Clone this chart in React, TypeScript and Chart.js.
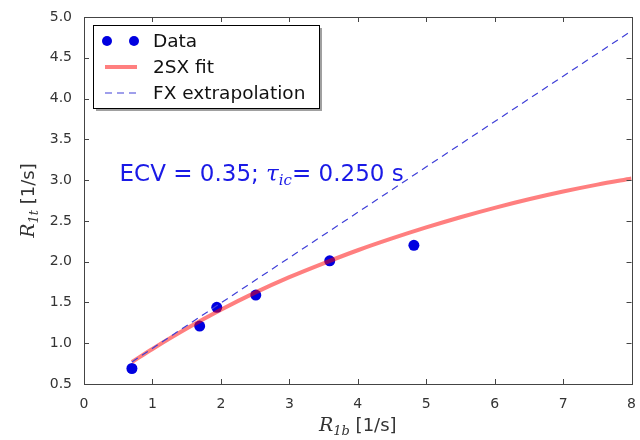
import React, { useEffect, useRef } from "react";
import { Chart, registerables } from "chart.js";

Chart.register(...registerables);

// ---- data ----
const dataX = [0.7, 1.69, 1.94, 2.51, 3.59, 4.82];
const dataY = [0.69, 1.21, 1.44, 1.59, 2.01, 2.2];

const fitX = [0.7, 1.0, 1.5, 2.0, 2.5, 3.0, 3.5, 4.0, 4.5, 5.0, 5.5, 6.0, 6.5, 7.0, 7.5, 8.0];
const fitY = [0.77, 0.93, 1.18, 1.41, 1.62, 1.81, 1.98, 2.14, 2.285, 2.42, 2.545, 2.66, 2.765, 2.86, 2.945, 3.02];

const fxX = [0.7, 8.0];
const fxY = [0.77, 4.83];

const xTicks = [0, 1, 2, 3, 4, 5, 6, 7, 8];
const yTicks = [0.5, 1.0, 1.5, 2.0, 2.5, 3.0, 3.5, 4.0, 4.5, 5.0];

const seriesLabels = ["Data", "2SX fit", "FX extrapolation"];
const ecvValue = "0.35";
const tauValue = "0.250";
const annotX = 0.52;
const annotY = 2.99;

const SANS = "'DejaVu Sans', sans-serif";
const SERIF = "'DejaVu Serif', serif";
const BLUE = "#0000e0";
const RED = "rgba(255,0,0,0.5)";
const DASH = "#4040d8";

type Seg = { t: string; f: string; dy: number };

function drawRich(ctx: CanvasRenderingContext2D, segs: Seg[], x: number, y: number, align: "left" | "center") {
  let total = 0;
  for (const s of segs) {
    ctx.font = s.f;
    total += ctx.measureText(s.t).width;
  }
  let cx = align === "center" ? x - total / 2 : x;
  ctx.textAlign = "left";
  ctx.textBaseline = "alphabetic";
  for (const s of segs) {
    ctx.font = s.f;
    ctx.fillText(s.t, cx, y + s.dy);
    cx += ctx.measureText(s.t).width;
  }
}

const decorPlugin = {
  id: "decor",
  afterDraw(chart: any) {
    const ctx: CanvasRenderingContext2D = chart.ctx;
    const { left, right, top, bottom } = chart.chartArea;
    const xs = chart.scales.x;
    const ys = chart.scales.y;
    ctx.save();

    // frame
    ctx.strokeStyle = "#444";
    ctx.lineWidth = 1;
    ctx.strokeRect(Math.round(left) + 0.5, Math.round(top) + 0.5, Math.round(right - left), Math.round(bottom - top));

    // inward ticks on all sides
    const TL = 5;
    ctx.beginPath();
    for (const v of xTicks) {
      const px = Math.round(xs.getPixelForValue(v)) + 0.5;
      ctx.moveTo(px, bottom);
      ctx.lineTo(px, bottom - TL);
      ctx.moveTo(px, top);
      ctx.lineTo(px, top + TL);
    }
    for (const v of yTicks) {
      const py = Math.round(ys.getPixelForValue(v)) + 0.5;
      ctx.moveTo(left, py);
      ctx.lineTo(left + TL, py);
      ctx.moveTo(right, py);
      ctx.lineTo(right - TL, py);
    }
    ctx.stroke();

    // annotation
    ctx.fillStyle = "#1a1ae6";
    drawRich(
      ctx,
      [
        { t: `ECV = ${ecvValue}; `, f: `23px ${SANS}`, dy: 0 },
        { t: "τ", f: `italic 23px ${SERIF}`, dy: 0 },
        { t: "ic", f: `italic 15px ${SERIF}`, dy: 4 },
        { t: `= ${tauValue} s`, f: `23px ${SANS}`, dy: 0 },
      ],
      xs.getPixelForValue(annotX),
      ys.getPixelForValue(annotY),
      "left"
    );

    // axis titles
    ctx.fillStyle = "#333";
    drawRich(
      ctx,
      [
        { t: "R", f: `italic 19px ${SERIF}`, dy: 0 },
        { t: "1b", f: `italic 13px ${SERIF}`, dy: 4 },
        { t: " [1/s]", f: `18px ${SANS}`, dy: 0 },
      ],
      (left + right) / 2,
      431,
      "center"
    );
    ctx.save();
    ctx.translate(34, (top + bottom) / 2);
    ctx.rotate(-Math.PI / 2);
    drawRich(
      ctx,
      [
        { t: "R", f: `italic 19px ${SERIF}`, dy: 0 },
        { t: "1t", f: `italic 13px ${SERIF}`, dy: 4 },
        { t: " [1/s]", f: `18px ${SANS}`, dy: 0 },
      ],
      0,
      0,
      "center"
    );
    ctx.restore();

    // legend
    const bx = left + 9;
    const by = top + 8;
    const bw = 226;
    const bh = 83;
    ctx.fillStyle = "rgba(120,120,120,0.7)";
    ctx.fillRect(bx + 3, by + 3, bw, bh);
    ctx.fillStyle = "#fff";
    ctx.fillRect(bx, by, bw, bh);
    ctx.strokeStyle = "#000";
    ctx.lineWidth = 1;
    ctx.strokeRect(Math.round(bx) + 0.5, Math.round(by) + 0.5, bw, bh);

    const rows = [by + 16, by + 42, by + 68];
    const hx0 = bx + 12;
    const hx1 = bx + 44;
    ctx.fillStyle = BLUE;
    for (const hx of [bx + 14, bx + 41]) {
      ctx.beginPath();
      ctx.arc(hx, rows[0], 5, 0, Math.PI * 2);
      ctx.fill();
    }
    ctx.strokeStyle = RED;
    ctx.lineWidth = 4;
    ctx.beginPath();
    ctx.moveTo(hx0, rows[1]);
    ctx.lineTo(hx1, rows[1]);
    ctx.stroke();
    ctx.strokeStyle = DASH;
    ctx.lineWidth = 1.2;
    ctx.setLineDash([7, 5]);
    ctx.beginPath();
    ctx.moveTo(hx0, rows[2]);
    ctx.lineTo(hx1, rows[2]);
    ctx.stroke();
    ctx.setLineDash([]);

    ctx.fillStyle = "#111";
    ctx.font = `18.5px ${SANS}`;
    ctx.textAlign = "left";
    ctx.textBaseline = "middle";
    seriesLabels.forEach((lab, i) => ctx.fillText(lab, bx + 60, rows[i] + 1));

    ctx.restore();
  },
};

export default function App() {
  const ref = useRef<HTMLCanvasElement | null>(null);

  useEffect(() => {
    if (!ref.current) return;
    const chart = new Chart(ref.current, {
      type: "scatter",
      data: {
        datasets: [
          {
            label: seriesLabels[0],
            data: dataX.map((x, i) => ({ x, y: dataY[i] })),
            backgroundColor: BLUE,
            borderWidth: 0,
            pointRadius: 5.5,
            showLine: false,
            order: 3,
          },
          {
            label: seriesLabels[1],
            data: fitX.map((x, i) => ({ x, y: fitY[i] })),
            borderColor: RED,
            borderWidth: 4,
            pointRadius: 0,
            showLine: true,
            cubicInterpolationMode: "monotone",
            order: 2,
          },
          {
            label: seriesLabels[2],
            data: fxX.map((x, i) => ({ x, y: fxY[i] })),
            borderColor: DASH,
            borderWidth: 1.2,
            borderDash: [7, 5],
            pointRadius: 0,
            showLine: true,
            order: 1,
          },
        ] as any,
      },
      options: {
        animation: false,
        responsive: false,
        layout: { padding: { top: 17, right: 8, left: 0, bottom: 0 } },
        plugins: { legend: { display: false }, tooltip: { enabled: false } },
        scales: {
          x: {
            type: "linear",
            min: 0,
            max: 8,
            grid: { display: false },
            border: { display: false },
            afterBuildTicks: (s: any) => {
              s.ticks = xTicks.map((v) => ({ value: v }));
            },
            afterFit: (s: any) => {
              s.height = 56;
            },
            ticks: {
              padding: 4,
              color: "#333",
              font: { family: SANS, size: 14 },
              maxRotation: 0,
              callback: (v: any) => String(v),
            },
          },
          y: {
            type: "linear",
            min: 0.5,
            max: 5,
            grid: { display: false },
            border: { display: false },
            afterBuildTicks: (s: any) => {
              s.ticks = yTicks.map((v) => ({ value: v }));
            },
            afterFit: (s: any) => {
              s.width = 84;
            },
            ticks: {
              padding: 4,
              color: "#333",
              font: { family: SANS, size: 14 },
              callback: (v: any) => Number(v).toFixed(1),
            },
          },
        },
      } as any,
      plugins: [decorPlugin],
    });
    return () => chart.destroy();
  }, []);

  return (
    <div style={{ position: "absolute", left: 0, top: 0, width: 640, height: 440, background: "#fff" }}>
      <canvas ref={ref} width={640} height={440} />
    </div>
  );
}
